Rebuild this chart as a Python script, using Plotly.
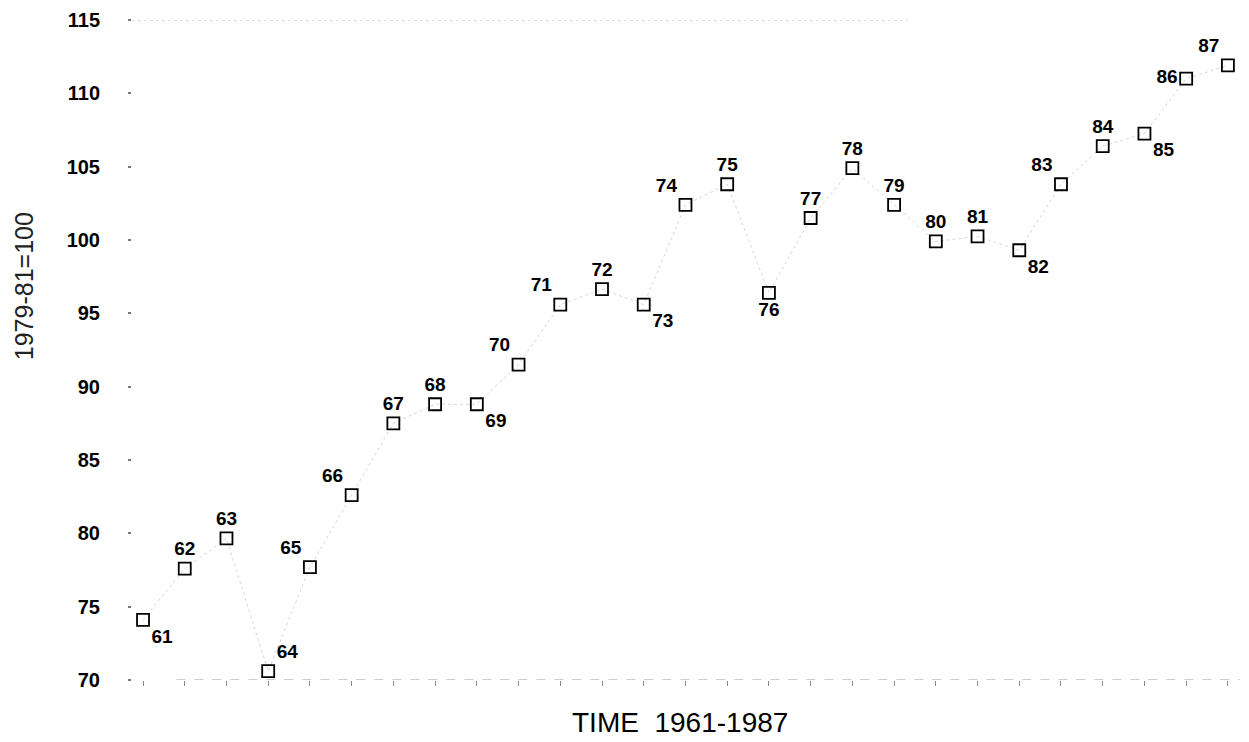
import plotly.graph_objects as go

# ---- data ----
years = list(range(61, 88))
values = [74.1, 77.6, 79.65, 70.6, 77.7, 82.6, 87.5, 88.8, 88.8, 91.5,
          95.6, 96.65, 95.6, 102.4, 103.8, 96.4, 101.5, 104.9, 102.4, 99.9,
          100.25, 99.3, 103.8, 106.4, 107.25, 111.0, 111.9]
labels = [str(y) for y in years]
y_ticks = [70, 75, 80, 85, 90, 95, 100, 105, 110, 115]

label_pos = ["bottom right", "top center", "top center", "top right", "top left",
             "top left", "top center", "top center", "bottom right", "top left",
             "top left", "top center", "bottom right", "top left", "top center",
             "bottom center", "top center", "top center", "top center", "top center",
             "top center", "bottom right", "top left", "top center", "bottom right",
             "middle left", "top left"]

W, H = 1249, 742
L, R, T, B = 132, 9, 18, 62

fig = go.Figure()

# faint connecting line
fig.add_trace(go.Scatter(
    x=years, y=values, mode="lines",
    line=dict(color="#d6d6d6", width=1, dash="dot"),
    hoverinfo="skip", showlegend=False))

# markers with year labels
fig.add_trace(go.Scatter(
    x=years, y=values, mode="markers+text",
    marker=dict(symbol="square-open", size=12, color="black",
                line=dict(width=1.8, color="black")),
    text=labels, textposition=label_pos,
    textfont=dict(family="Liberation Sans", size=19, color="black", weight="bold"),
    cliponaxis=False, showlegend=False))

fig.update_layout(
    width=W, height=H,
    margin=dict(l=L, r=R, t=T, b=B),
    plot_bgcolor="white", paper_bgcolor="white",
    xaxis=dict(range=[60.736, 87.29], showgrid=False, zeroline=False,
               showticklabels=False, tickmode="array", tickvals=years,
               ticks="outside", ticklen=5, tickcolor="#888", tickwidth=1,
               showline=False),
    yaxis=dict(range=[70, 115], showgrid=False, zeroline=False,
               tickmode="array", tickvals=y_ticks,
               ticks="outside", ticklen=3, tickcolor="#777", tickwidth=2,
               ticklabelstandoff=24,
               tickfont=dict(family="Liberation Sans", size=20, color="black", weight="bold"),
               showline=False),
    shapes=[
        dict(type="line", xref="paper", yref="y", x0=0.04, x1=1.0, y0=70, y1=70,
             line=dict(color="#999", width=1, dash="dash")),
        dict(type="line", xref="paper", yref="y", x0=0.0, x1=0.7, y0=115, y1=115,
             line=dict(color="#bbb", width=1, dash="dot")),
    ],
    annotations=[
        dict(text="TIME  1961-1987", xref="paper", yref="paper",
             x=(680 - L) / (W - L - R), y=-(723 - (H - B)) / (H - T - B),
             showarrow=False, xanchor="center", yanchor="middle",
             font=dict(family="Liberation Sans", size=28, color="black")),
        dict(text="1979-81=100", xref="paper", yref="paper",
             x=(24 - L) / (W - L - R), y=((H - B) - 285) / (H - T - B),
             showarrow=False, textangle=-90, xanchor="center", yanchor="middle",
             font=dict(family="Liberation Sans", size=25, color="#222")),
    ],
)

fig.write_html("out.html")
